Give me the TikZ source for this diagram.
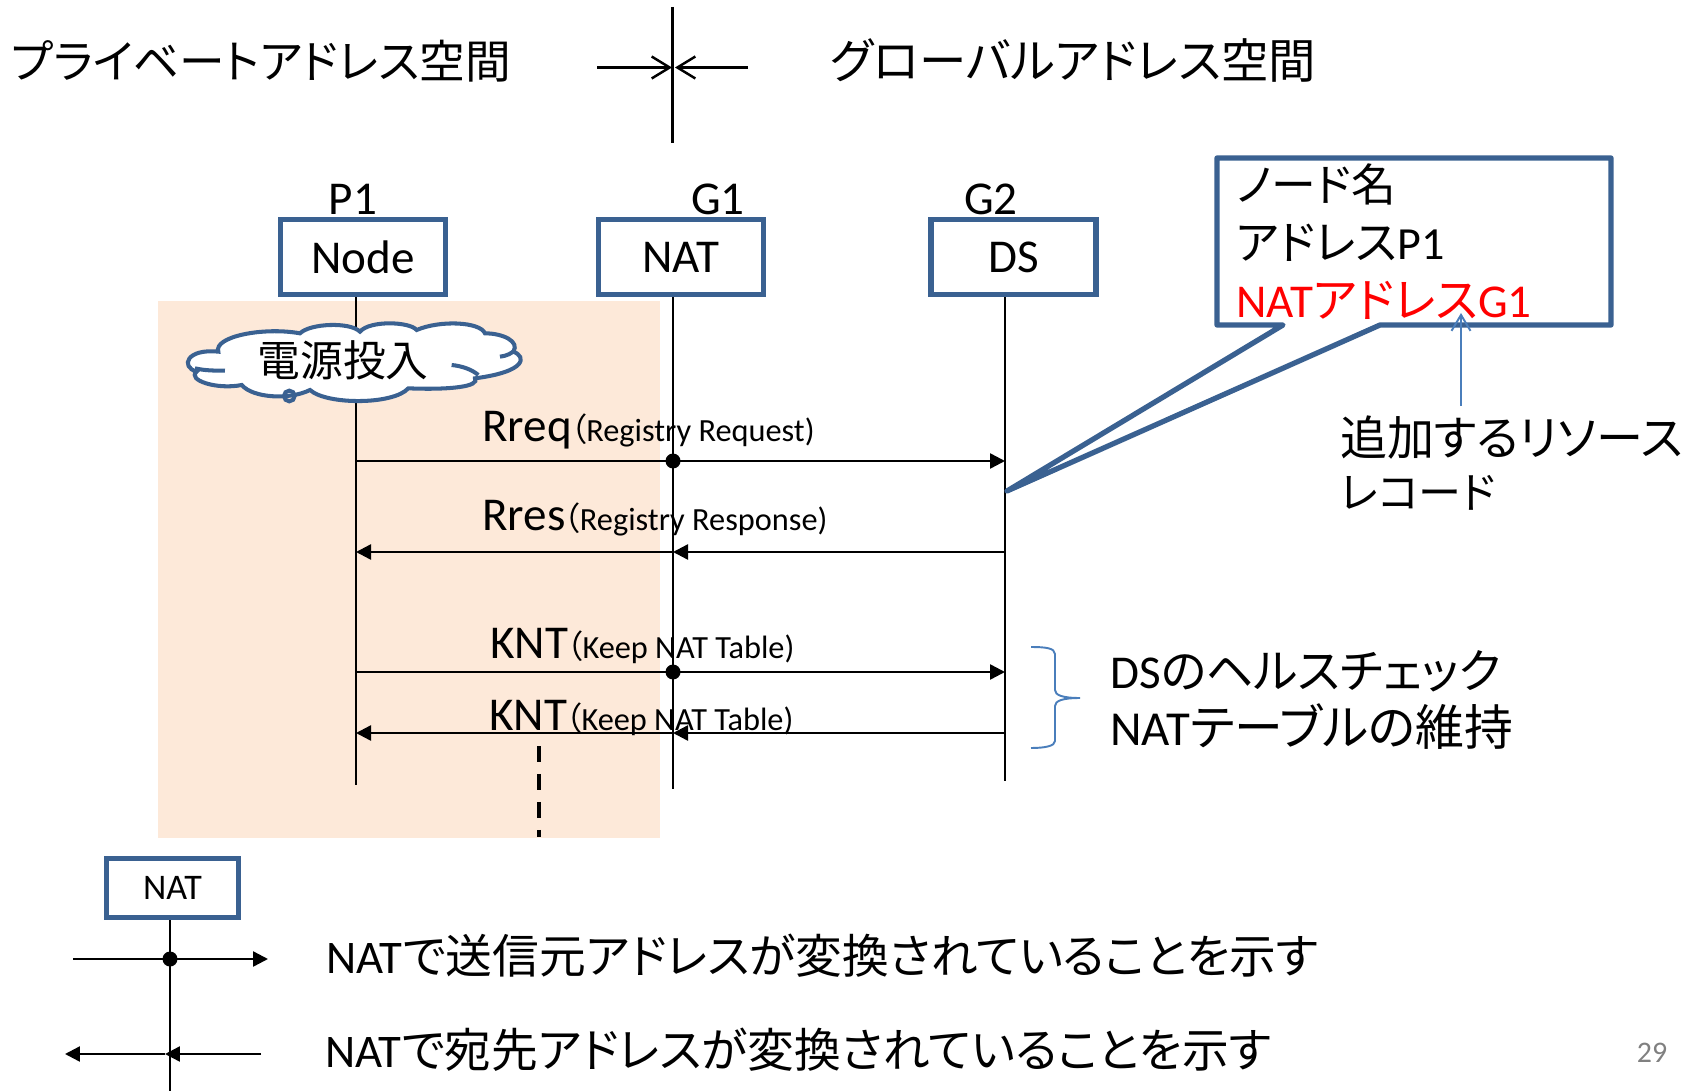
\documentclass[tikz,border=0pt]{standalone}
\usepackage{fontspec}
\usepackage{xcolor}
\usepackage{tikz}
\usetikzlibrary{arrows.meta, positioning}
\setmainfont{Carlito}
\newfontfamily\jpfont[RawFeature=+palt]{Noto Sans CJK JP}
\newcommand{\jp}[1]{{\jpfont #1}}
\newcommand{\fsize}[1]{\fontsize{#1}{#1}\selectfont}
\newcommand{\sub}[1]{\hspace{-1pt}\fsize{18.4}\jp{（}#1)}
\definecolor{boxblue}{HTML}{3A6191}
\definecolor{linkblue}{HTML}{4A7EBB}
\definecolor{peach}{HTML}{FDE9D9}
\tikzset{
	box/.style={draw=boxblue, line width=3pt, fill=white, minimum width=3.3cm, minimum height=1.5cm, font=\fsize{26.8}},
	txt/.style={anchor=base west, inner sep=0pt, font=\fsize{26.8}},
	dot/.style={circle, fill=black, inner sep=0pt, minimum size=0.3cm},
	msg/.style={->, line width=1.4pt},
	life/.style={-, line width=1.4pt},
	barb/.style={line width=1.4pt, -{Straight Barb[length=0.36cm, width=0.44cm]}},
	link/.style={linkblue, line width=1.1pt},
	cloudline/.style={draw=boxblue, line width=2.3pt}
}
\begin{document}
\begin{tikzpicture}[x=0.02cm, y=-0.02cm, >={Triangle[length=0.3cm, width=0.3cm]}, node distance=6.36cm]

	\useasboundingbox (0,0) rectangle (1701,1091);
	\fill [peach] (158,301) rectangle (660,838);

	\node [box] (Node) at (363,257) {Node};
	\node [box] (NAT) [right of = Node] {NAT};
	\node [box] (DS) [right of = NAT, node distance=6.65cm] {DS};

	\node [txt, anchor=base] (P1) at (353,215) {P1};
	\node [txt, anchor=base] (G1) at (718,215) {G1};
	\node [txt, anchor=base] (G2) at (991,215) {G2};

	\coordinate (NodeEnd) at (356,785);
	\coordinate (NATEnd) at (673,789);
	\coordinate (DSEnd) at (1005,781);
	\foreach \nm/\yy in {a/461, b/552, c/672, d/733} {
		\coordinate (n\nm) at (356,\yy);
		\coordinate (g\nm) at (673,\yy);
		\coordinate (s\nm) at (1005,\yy);
	}

	\draw [life] (Node.south -| NodeEnd) -- (NodeEnd);
	\draw [life] (NAT.south -| NATEnd) -- (NATEnd);
	\draw [life] (DS.south -| DSEnd) -- (DSEnd);

	\draw [msg] (na) -- (sa);
	\node [dot] (dota) at (ga) {};
	\draw [msg] (sb) -- (gb);
	\draw [msg] (gb) -- (nb);
	\draw [msg] (nc) -- (sc);
	\node [dot] (dotc) at (gc) {};
	\draw [msg] (sd) -- (gd);
	\draw [msg] (gd) -- (nd);

	\node [txt] (Rreq) at (482,441) {Rreq\sub{Registry Request}};
	\node [txt] (Rres) at (482,530) {Rres\sub{Registry Response}};
	\node [txt] (KNTa) at (490,658) {KNT\sub{Keep NAT Table}};
	\node [txt] (KNTb) at (489,730) {KNT\sub{Keep NAT Table}};

	\coordinate (dashTop) at (539,746);
	\coordinate (dashEnd) at (539,837);
	\draw [-, line width=2.3pt, dash pattern=on 0.32cm off 0.24cm] (dashTop) -- (dashEnd);

	\begin{scope}[shift={(150,280)}, x=0.00667cm, y=-0.00667cm]
		\draw [cloudline, fill=white]
			(205,215) .. controls (190,170) and (340,140) .. (450,160)
			.. controls (480,130) and (600,125) .. (630,155)
			.. controls (660,120) and (780,125) .. (800,150)
			.. controls (870,120) and (990,125) .. (1005,160)
			.. controls (1060,160) and (1110,185) .. (1090,215)
			.. controls (1130,230) and (1130,275) .. (975,295)
			.. controls (990,320) and (900,330) .. (775,325)
			.. controls (730,375) and (530,375) .. (480,330)
			.. controls (420,360) and (310,355) .. (275,315)
			.. controls (200,330) and (110,300) .. (140,275)
			.. controls (90,260) and (110,205) .. (205,215) -- cycle;
		\draw [cloudline] (135,265) .. controls (165,272) and (195,272) .. (225,272);
		\draw [cloudline] (905,255) .. controls (935,258) and (965,268) .. (985,285);
		\draw [cloudline] (1050,230) .. controls (1070,228) and (1085,220) .. (1095,210);
		\draw [cloudline] (418,348) circle [radius=16];
	\end{scope}
	\node [txt, anchor=center, font=\fsize{24.3}\jpfont] (Power) at (343,360) {電源投入};

	\draw [draw=boxblue, line width=3pt, line join=round, fill=white]
		(1217,158) -- (1611,158) -- (1611,325) -- (1380,325) -- (1007,491) -- (1283,325) -- (1217,325) -- cycle;
	\node [txt, anchor=west, font=\fsize{25.5}] (Name) at (1236,184) {\jp{ノード名}};
	\node [txt, anchor=west, font=\fsize{26.2}] (Addr) at (1236,243) {\jp{アドレス}P1};
	\node [txt, anchor=west, text=red] (NatAddr) at (1236,300) {NAT\jp{アドレス}G1};

	\coordinate (recFrom) at (1461,406);
	\coordinate (recTo) at (1461,313);
	\draw [link, -{Straight Barb[length=0.32cm, width=0.38cm]}] (recFrom) -- (recTo);
	\node [txt, anchor=west] (Rec) at (1340,438) {\jp{追加するリソース}};
	\node [txt, anchor=west, font=\fsize{24.5}] (Rec2) at (1340,493) {\jp{レコード}};

	\draw [link] (1031,647) .. controls (1045,647) and (1055,648) .. (1055,654) -- (1055,690)
		.. controls (1055,695) and (1062,698) .. (1080,698) .. controls (1062,698) and (1055,701) .. (1055,706) -- (1055,741)
		.. controls (1055,746) and (1045,748) .. (1031,748);
	\node [txt, anchor=west] (Health) at (1110,671) {DS\jp{のヘルスチェック}};
	\node [txt, anchor=west, font=\fsize{27.8}] (Keep) at (1110,727) {NAT\jp{テーブルの維持}};

	\node [txt, anchor=west, font=\fsize{26}\jpfont] (Priv) at (11,61) {プライベートアドレス空間};
	\node [txt, anchor=west, font=\fsize{27}\jpfont] (Glob) at (830,61) {グローバルアドレス空間};
	\coordinate (crossTop) at (672.5,7);
	\coordinate (crossEnd) at (672.5,143);
	\coordinate (crossL) at (597,67.5);
	\coordinate (crossLm) at (672,67.5);
	\coordinate (crossR) at (748,67.5);
	\coordinate (crossRm) at (675,67.5);
	\draw [-, line width=1.5pt] (crossTop) -- (crossEnd);
	\draw [barb] (crossL) -- (crossLm);
	\draw [barb] (crossR) -- (crossRm);

	\node [box, minimum width=2.64cm, minimum height=1.18cm, font=\fsize{20.5}] (Legend) at (172.5,888) {NAT};
	\coordinate (legEnd) at (170,1091);
	\draw [life] (Legend.south -| legEnd) -- (legEnd);
	\coordinate (la) at (73,959);
	\coordinate (lb) at (268,959);
	\coordinate (lc) at (261,1054);
	\coordinate (lm) at (165,1054);
	\coordinate (ld) at (65,1054);
	\draw [msg] (la) -- (lb);
	\node [dot] (legDot) at (170,959) {};
	\draw [msg] (lc) -- (lm);
	\draw [msg] (lm) -- (ld);
	\node [txt, anchor=west, font=\fsize{26.6}] (Send) at (326,956) {NAT\jp{で送信元アドレスが変換されていることを示す}};
	\node [txt, anchor=west, font=\fsize{26.6}] (Dest) at (325,1050) {NAT\jp{で宛先アドレスが変換されていることを示す}};
	\node [txt, anchor=center, font=\fsize{17}, text=gray] (Page) at (1652,1053) {29};

\end{tikzpicture}
\end{document}
